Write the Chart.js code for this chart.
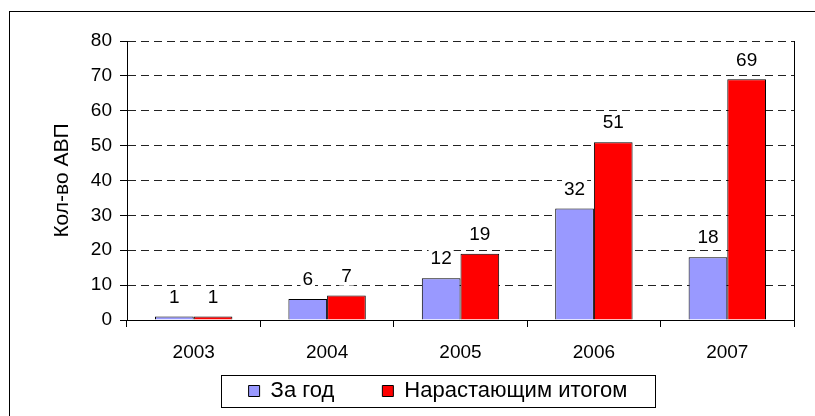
<!DOCTYPE html>
<html>
<head>
<meta charset="utf-8">
<script src="https://cdn.jsdelivr.net/npm/chart.js@4"></script>
<style>
  html, body { margin: 0; padding: 0; background: #fff; }
  #wrap { width: 815px; height: 416px; }
</style>
</head>
<body>
<div id="wrap"><canvas id="chart" width="815" height="416"></canvas></div>
<script>
// chart data
const categories = ['2003', '2004', '2005', '2006', '2007'];
const perYear = [1, 6, 12, 32, 18];
const cumulative = [1, 7, 19, 51, 69];
const seriesNames = ['За год', 'Нарастающим итогом'];
const yTitle = 'Кол-во АВП';
const yMin = 0, yMax = 80, yStep = 10;

const FONT = '"Liberation Sans", Arial, sans-serif';
const LEGEND_SIZE = 22;

// outer frame + plot right edge + legend box
const framePlugin = {
  id: 'frame',
  beforeDraw(chart) {
    const ctx = chart.ctx;
    ctx.save();
    ctx.strokeStyle = '#000'; ctx.lineWidth = 1;
    ctx.strokeRect(9.5, 11.5, 1000, 1000);
    ctx.restore();
  },
  afterLayout(chart) {
    // legend centred under the plot, a bit wider than its frame so items stay on one row
    const lg = chart.legend;
    const pad = lg.options.labels.padding;
    lg.left = 171; lg.right = 705; lg.width = 534;
    lg.top = 391 - pad - LEGEND_SIZE / 2;
  },
  afterDraw(chart) {
    const ctx = chart.ctx, a = chart.chartArea, lg = chart.legend;
    const pad = lg.options.labels.padding;
    ctx.save();
    ctx.strokeStyle = '#000'; ctx.lineWidth = 1;
    ctx.beginPath();
    ctx.moveTo(Math.round(a.right) + 0.5, a.top);
    ctx.lineTo(Math.round(a.right) + 0.5, a.bottom);
    ctx.stroke();
    const cx = (lg.left + lg.right) / 2;
    const cy = lg.top + pad + LEGEND_SIZE / 2;
    ctx.strokeRect(Math.round(cx - 217) + 0.5, Math.round(cy - 16) + 0.5, 434, 32);
    ctx.restore();
  }
};

// value labels above the bars, on white boxes
const labelPlugin = {
  id: 'valueLabels',
  afterDatasetsDraw(chart) {
    const ctx = chart.ctx;
    ctx.save();
    ctx.font = '19px ' + FONT;
    ctx.textAlign = 'center'; ctx.textBaseline = 'middle';
    chart.data.datasets.forEach((ds, di) => {
      chart.getDatasetMeta(di).data.forEach((el, i) => {
        const txt = String(ds.data[i]);
        const w = ctx.measureText(txt).width;
        const y = el.y - 20;
        ctx.fillStyle = '#fff';
        ctx.fillRect(el.x - w / 2 - 2, y - 10, w + 4, 20);
        ctx.fillStyle = '#000';
        ctx.fillText(txt, el.x, y + 1);
      });
    });
    ctx.restore();
  }
};

new Chart(document.getElementById('chart'), {
  type: 'bar',
  data: {
    labels: categories,
    datasets: [
      { label: seriesNames[0], data: perYear, backgroundColor: '#9999FF', borderColor: '#000', borderWidth: 1 },
      { label: seriesNames[1], data: cumulative, backgroundColor: '#FF0000', borderColor: '#000', borderWidth: 1 }
    ]
  },
  options: {
    responsive: false,
    animation: false,
    devicePixelRatio: 1,
    datasets: { bar: { categoryPercentage: 0.58, barPercentage: 1 } },
    layout: { padding: { left: 46, top: 41, right: 21, bottom: 0 } },
    plugins: {
      tooltip: { enabled: false },
      legend: {
        position: 'bottom',
        maxHeight: 40,
        labels: { boxWidth: 11, boxHeight: 11, padding: 48, color: '#000', font: { family: FONT, size: LEGEND_SIZE } }
      }
    },
    scales: {
      x: {
        grid: { drawOnChartArea: false, drawTicks: true, tickLength: 7, tickColor: '#000', offset: true },
        border: { display: true, color: '#000', width: 1 },
        ticks: { color: '#000', padding: 14, font: { family: FONT, size: 19 } },
        afterFit(s) { s.height = 56; }
      },
      y: {
        min: yMin, max: yMax,
        grid: { color: '#222', lineWidth: 1, tickLength: 7, tickColor: '#000', tickBorderDash: [] },
        border: { display: true, color: '#000', width: 1, dash: [8, 5] },
        ticks: { stepSize: yStep, color: '#000', padding: 8, font: { family: FONT, size: 19 } },
        title: { display: true, text: yTitle, color: '#000', padding: { top: 4, bottom: 0 }, font: { family: FONT, size: 21 } },
        afterFit(s) { s.width = 81; }
      }
    }
  },
  plugins: [framePlugin, labelPlugin]
});
</script>
</body>
</html>
